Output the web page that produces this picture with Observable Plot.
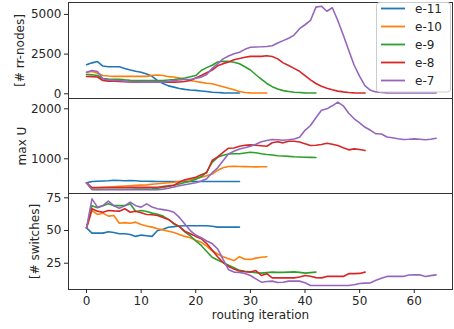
<!DOCTYPE html>
<html>
<head>
<meta charset="utf-8">
<script src="https://cdn.jsdelivr.net/npm/d3@7"></script>
<script src="https://cdn.jsdelivr.net/npm/@observablehq/plot@0.6"></script>
<style>
  body { margin: 0; background: white; }
  #chart { position: relative; width: 454px; height: 329px; font-family: "DejaVu Sans", sans-serif; }
  #chart svg { display: block; }
  #legend { position: absolute; left: 0; top: 0; }
</style>
</head>
<body>
<div id="chart"></div>
<script>
// ---- series names / colours ----
const seriesNames = ["e-11", "e-10", "e-9", "e-8", "e-7"];
const seriesColors = ["#1f77b4", "#ff7f0e", "#2ca02c", "#d62728", "#9467bd"];

// ---- panel 1: [# rr-nodes], value at routing iteration = index ----
const rrE11 = [1830,1950,2030,1750,1700,1700,1700,1600,1500,1420,1360,1250,1100,830,650,500,420,330,280,240,215,180,140,100,80,60,50,50,50];
const rrE10 = [1360,1400,1300,1150,1120,1100,1100,1100,1100,1100,1100,1100,1160,1180,1150,1080,1060,1000,900,840,780,720,660,630,540,450,350,250,150,80,60,50,50,50];
const rrE9  = [1230,1200,1150,960,930,920,920,880,850,840,840,840,840,840,840,870,900,950,1000,1080,1150,1470,1650,1800,2000,2050,2040,1990,1890,1700,1500,1200,920,650,450,300,200,150,100,80,60,50,50];
const rrE8  = [1100,1080,1060,840,800,800,780,760,740,735,735,735,735,735,735,735,735,740,780,840,1000,1150,1330,1500,1760,1900,2000,2150,2220,2300,2360,2360,2360,2400,2350,2200,1950,1780,1600,1420,1150,880,650,480,350,250,170,120,80,60,50,50];
const rrE7  = [1360,1470,1400,940,880,840,840,800,760,740,735,735,735,735,735,780,840,870,900,900,980,1050,1220,1600,1890,2200,2380,2520,2620,2800,2935,2950,2960,2980,3030,3200,3350,3500,3700,4100,4350,4620,5460,5520,5200,5420,4620,3700,2750,1800,1100,500,220,120,80,60,50,50,50,50,50,50,50,50,50];

// ---- panel 2: max U ----
const uE11 = [519,545,552,555,560,572,565,560,565,560,552,550,548,545,545,545,545,545,545,545,545,545,545,545,545,545,545,545,545];
const uE10 = [519,412,420,428,435,442,448,455,462,468,473,478,490,500,510,520,530,545,560,585,605,630,660,695,770,820,845,848,846,844,840,838,840,842];
const uE9  = [519,386,388,390,390,391,392,392,392,393,394,395,400,410,425,445,470,495,525,550,590,640,740,930,1030,1070,1095,1100,1100,1115,1130,1120,1100,1085,1075,1060,1055,1048,1040,1035,1030,1028,1026];
const uE8  = [519,425,425,425,426,426,427,427,428,428,429,429,430,430,445,458,470,530,580,605,630,680,720,966,1040,1130,1212,1215,1250,1270,1279,1270,1260,1252,1320,1340,1319,1350,1350,1335,1300,1266,1272,1285,1312,1290,1266,1220,1179,1199,1185,1166];
const uE7  = [519,386,382,382,382,382,382,382,382,382,382,382,382,382,392,410,435,460,480,500,520,555,600,720,820,960,1099,1150,1195,1220,1250,1290,1340,1365,1386,1380,1370,1380,1395,1430,1570,1666,1820,1970,1999,2060,2133,2060,1910,1800,1720,1630,1570,1500,1495,1435,1420,1400,1385,1390,1399,1392,1380,1390,1412];

// ---- panel 3: [# switches] ----
const swE11 = [52,48,48,48,49,48.5,47.5,47.5,47,45.5,46.5,46,45.5,50,51,52.5,53,53.5,53.6,53.6,53.6,53.6,53.6,53.2,52.6,52.6,52.6,52.6,52.6];
const swE10 = [52,65.3,62.3,63.3,61,61.5,55.6,56,55.5,56.4,54.6,53.5,52.6,51.3,50.5,49.5,48.5,47,45.5,44.5,42.5,41,38,34.5,32,30,28.5,27,30,28,27.9,28.9,29.5,30];
const swE9  = [52,69,67.4,69,70.4,69,69,69,70.4,64.5,65.3,64.5,63.3,62.5,61,58.5,55,53,49,46,42,38.6,34,29.5,27.5,25.5,23.5,21.5,19.5,18.8,18.4,17.8,17.4,17.8,18.2,18,18,18.2,18.4,18,17.4,17.8,18.2];
const swE8  = [52,66.6,64.8,64,65.3,65,64.8,66.6,64,64.8,63.5,62.3,62,61.5,60,58.5,55.5,53,49.5,47.5,45.5,43.7,40,35,30,25.5,22.5,20.5,19,18.5,18.2,19.4,15.6,17,13.8,13.8,13.8,13.8,13.8,14.5,15.6,15,14,13.8,14.9,14.9,14.9,14.9,17,17,17.2,18.2];
const swE7  = [52,74.2,67.9,69,72.5,69,67,69,71.7,69,67.9,70.4,68,66.6,66,65.3,64,60,55,50,46.5,44.5,42,40,36,28,20,18.2,18,17.2,15.6,13,10.5,11,11.3,10.3,10.5,11.3,11.3,11.3,10,8,8,8,8,8,8,8,8,8.5,9.5,9.8,10,12,13.5,14.9,14.9,14.9,14.9,16,16.1,16.1,14.9,15.5,16.1];

// ---- axis ticks & labels ----
const xTicks = [0, 10, 20, 30, 40, 50, 60];
const rrTicks = [0, 2500, 5000];
const uTicks = [1000, 2000];
const swTicks = [25, 50, 75];
const xLabel = "routing iteration";
const rrLabel = "[# rr-nodes]";
const uLabel = "max U";
const swLabel = "[# switches]";

function toRows(arrays) {
  const rows = [];
  arrays.forEach((arr, s) => arr.forEach((v, i) => rows.push({series: seriesNames[s], iter: i, value: v})));
  return rows;
}

const rrData = toRows([rrE11, rrE10, rrE9, rrE8, rrE7]);
const uData = toRows([uE11, uE10, uE9, uE8, uE7]);
const swData = toRows([swE11, swE10, swE9, swE8, swE7]);

const ink = "#262626";
const fmt = d3.format("d");

function panel({data, yDomain, yTicks, height, marginTop, marginBottom, label, labelDx, showX}) {
  return Plot.plot({
    width: 454,
    height,
    marginLeft: 68,
    marginRight: 2,
    marginTop,
    marginBottom,
    style: {fontFamily: "DejaVu Sans", fontSize: "12px", color: ink, background: "white", overflow: "visible"},
    x: {domain: [-3.3, 67.0], axis: null},
    y: {domain: yDomain, axis: null},
    color: {domain: seriesNames, range: seriesColors},
    marks: [
      Plot.line(data, {x: "iter", y: "value", stroke: "series", strokeWidth: 1.6}),
      Plot.frame({stroke: "#333", strokeWidth: 1}),
      Plot.axisY({ticks: yTicks, tickFormat: fmt, tickSize: 4, tickPadding: 3, label: null, fontSize: 12}),
      Plot.text([label], {frameAnchor: "left", rotate: -90, dx: labelDx, text: d => d, textAnchor: "middle", fontSize: 12, fill: ink}),
      showX ? Plot.axisX({ticks: xTicks, tickFormat: fmt, tickSize: 4, tickPadding: 3, label: null, fontSize: 12}) : null,
      showX ? Plot.text([xLabel], {frameAnchor: "bottom", dy: 29, text: d => d, textAnchor: "middle", fontSize: 12, fill: ink}) : null
    ]
  });
}

const chart = document.getElementById("chart");
chart.appendChild(panel({data: rrData, yDomain: [-296, 5752], yTicks: rrTicks, height: 98, marginTop: 2, marginBottom: 0, label: rrLabel, labelDx: -48, showX: false}));
chart.appendChild(panel({data: uData, yDomain: [306, 2206], yTicks: uTicks, height: 95, marginTop: 0, marginBottom: 0, label: uLabel, labelDx: -46, showX: false}));
chart.appendChild(panel({data: swData, yDomain: [4.9, 78.3], yTicks: swTicks, height: 136, marginTop: 0, marginBottom: 40, label: swLabel, labelDx: -33, showX: true}));

// ---- legend ----
const leg = d3.select("#chart").append("svg")
  .attr("id", "legend").attr("width", 454).attr("height", 100);
leg.append("rect")
  .attr("x", 376.5).attr("y", 2.5).attr("width", 74).attr("height", 89.5)
  .attr("rx", 3).attr("fill", "white").attr("fill-opacity", 0.85)
  .attr("stroke", "#cccccc");
const rowsG = leg.selectAll("g.item").data(seriesNames).join("g")
  .attr("transform", (d, i) => `translate(0, ${8.5 + i * 18})`);
rowsG.append("line")
  .attr("x1", 381).attr("x2", 405).attr("y1", 0).attr("y2", 0)
  .attr("stroke", (d, i) => seriesColors[i]).attr("stroke-width", 1.8);
rowsG.append("text")
  .attr("x", 415).attr("y", 0).attr("dy", "0.35em")
  .attr("font-family", "DejaVu Sans").attr("font-size", 12).attr("fill", ink)
  .text(d => d);
</script>
</body>
</html>
